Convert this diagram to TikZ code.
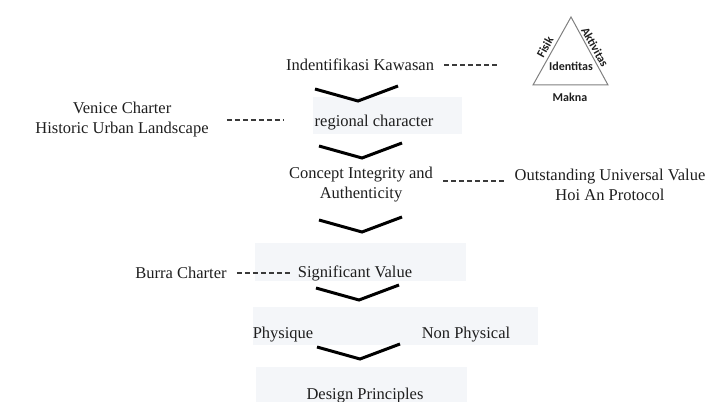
\documentclass[tikz,border=0pt]{standalone}
\usepackage{fontspec}
\setmainfont{Liberation Serif}
\newfontfamily\segitigafont{Carlito}
\usetikzlibrary{positioning}
\definecolor{boxfill}{HTML}{F4F6F9}
\definecolor{dashgray}{HTML}{3A3A3A}
\definecolor{trigray}{HTML}{808080}
\definecolor{bodytext}{HTML}{1E1E1E}

\begin{document}
\begin{tikzpicture}[x=1pt,y=-1pt,
    teks/.style={font=\fontsize{16.5}{20}\selectfont, inner sep=0pt, align=center, text=bodytext},
    latar/.style={fill=boxfill, draw=none, inner sep=0pt, anchor=north west},
    chevron/.style={line width=3pt, black, line join=miter},
    putus/.style={dash pattern=on 5pt off 3pt, line width=1.1pt, dashgray},
    sisi/.style={font=\segitigafont\bfseries\fontsize{12}{12}\selectfont, inner sep=0pt, text=bodytext},
    panah/.pic={\draw[chevron] (-43,-12) -- (0,0) -- (40,-15);}]
    \useasboundingbox (0,0) rectangle (708,401);

    % Background boxes
    \node[latar, minimum width=149pt, minimum height=37pt] (regionalbox) at (313,97) {};
    \node[latar, minimum width=211pt, minimum height=38pt] (signifikanbox) at (255,243) {};
    \node[latar, minimum width=285pt, minimum height=38pt] (fisikbox) at (253,307) {};
    \node[latar, minimum width=211pt, minimum height=40pt] (desainbox) at (256,367) {};

    % Main flow
    \node[teks] (kawasan) at (360,65) {Indentifikasi Kawasan};
    \node[teks] (regional) at (374,123) {regional character};
    \node[teks] (konsep) at (361,185) {Concept Integrity and\\Authenticity};
    \node[teks] (signifikan) at (355,273) {Significant Value};
    \node[teks] (physique) at (283,335) {Physique};
    \node[teks] (nonfisik) at (466,335) {Non Physical};
    \node[teks] (desain) at (365,396) {Design Principles};

    % Side references
    \node[teks] (venice) at (122,120) {Venice Charter\\Historic Urban Landscape};
    \node[teks] (outstanding) at (610,185) {Outstanding Universal Value\\Hoi An Protocol};
    \node[teks] (burra) at (181,273) {Burra Charter};

    % Triangle
    \coordinate (kiri) at (533,85);
    \coordinate (puncak) at (571,17);
    \coordinate (kanan) at (608,85);
    \draw[trigray, line width=1pt] (kiri) -- (puncak) -- (kanan) -- cycle;
    \node[sisi] (identitas) at (571,66) {Identitas};
    \node[sisi] (makna) at (570,97) {Makna};
    \node[sisi, rotate=61] (fisik) at (545,47) {Fisik};
    \node[sisi, rotate=-61] (aktivitas) at (595,47) {Aktivitas};

    % Chevrons
    \pic at (358,101) {panah};
    \pic at (362,158) {panah};
    \pic at (362,232) {panah};
    \pic at (359,300) {panah};
    \pic at (360,359) {panah};

    % Dashed links
    \draw[putus] ([xshift=10pt]kawasan.east) -- ([xshift=-33pt]kawasan.east -| kiri);
    \draw[putus] ([xshift=18pt]venice.east) -- ([xshift=-30pt]venice.east -| regionalbox.west);
    \draw[putus] ([xshift=10pt,yshift=4pt]konsep.east) -- ([xshift=-10pt,yshift=4pt]konsep.east -| outstanding.west);
    \draw[putus] ([xshift=10pt]burra.east) -- ([xshift=-7pt]burra.east -| signifikan.west);
\end{tikzpicture}
\end{document}
